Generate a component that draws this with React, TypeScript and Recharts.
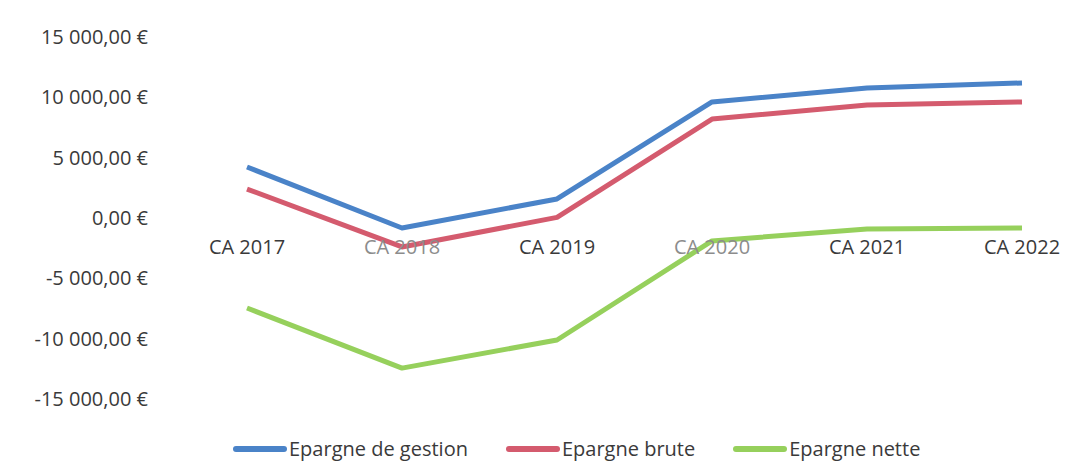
import React from 'react';
import { LineChart, Line, XAxis, YAxis, Legend } from 'recharts';

const CATEGORIES = ['CA 2017', 'CA 2018', 'CA 2019', 'CA 2020', 'CA 2021', 'CA 2022'];
const EPARGNE_GESTION = [4230, -830, 1580, 9620, 10780, 11190];
const EPARGNE_BRUTE = [2400, -2400, 50, 8200, 9370, 9620];
const EPARGNE_NETTE = [-7460, -12440, -10110, -1900, -910, -830];
const Y_TICKS = [-15000, -10000, -5000, 0, 5000, 10000, 15000];
const FADED = ['CA 2018', 'CA 2020'];

const SERIES = [
  { key: 'gestion', name: 'Epargne de gestion', color: '#4a83c8', values: EPARGNE_GESTION },
  { key: 'brute', name: 'Epargne brute', color: '#d45b6e', values: EPARGNE_BRUTE },
  { key: 'nette', name: 'Epargne nette', color: '#96d05c', values: EPARGNE_NETTE },
];

const TXT = '#3a3a3a';
const FONT = '"Open Sans", sans-serif';

const fmtEuro = (v: number) => {
  const abs = Math.abs(v);
  const int = Math.floor(abs).toString().replace(/\B(?=(\d{3})+(?!\d))/g, ' ');
  return `${v < 0 ? '-' : ''}${int},00 €`;
};

// category labels sit just under the zero line, like the Excel original
function CatTick(props: any) {
  const { x, y, payload } = props;
  const faded = FADED.includes(payload.value);
  return (
    <text x={x} y={y} dy={-153} textAnchor="middle" fill={faded ? '#8c8c8c' : TXT}
      fontSize={20} fontFamily={FONT}>
      {payload.value}
    </text>
  );
}

function LegendContent() {
  return (
    <div style={{ display: 'flex', alignItems: 'center', paddingLeft: 233, fontFamily: FONT, fontSize: 20, color: TXT }}>
      {SERIES.map((s, i) => (
        <div key={s.key} style={{ display: 'flex', alignItems: 'center', marginLeft: i ? 38 : 0 }}>
          <div style={{ width: 54, height: 6, borderRadius: 3, background: s.color, marginRight: 2 }} />
          <span>{s.name}</span>
        </div>
      ))}
    </div>
  );
}

export default function App() {
  const data = CATEGORIES.map((c, i) => ({
    cat: c,
    gestion: EPARGNE_GESTION[i],
    brute: EPARGNE_BRUTE[i],
    nette: EPARGNE_NETTE[i],
  }));

  return (
    <div style={{ width: 1066, height: 461, background: '#fff', position: 'relative' }}>
      <style>{'body{margin:0}'}</style>
      <LineChart width={1066} height={461} data={data} margin={{ top: 37, right: 0, left: 0, bottom: 0 }}>
        <XAxis dataKey="cat" axisLine={false} tickLine={false} height={36}
          padding={{ left: 87, right: 44 }} tick={<CatTick />} interval={0} />
        <YAxis domain={[-15000, 15000]} ticks={Y_TICKS} width={160} axisLine={false} tickLine={false}
          tickSize={0} tickMargin={12} tickFormatter={fmtEuro}
          tick={{ fontSize: 20, fill: TXT, fontFamily: FONT }} />
        <Legend verticalAlign="bottom" height={26} content={<LegendContent />} />
        {SERIES.map(s => (
          <Line key={s.key} type="linear" dataKey={s.key} name={s.name} stroke={s.color}
            strokeWidth={5} strokeLinejoin="round" dot={false} activeDot={false}
            isAnimationActive={false} />
        ))}
      </LineChart>
    </div>
  );
}
